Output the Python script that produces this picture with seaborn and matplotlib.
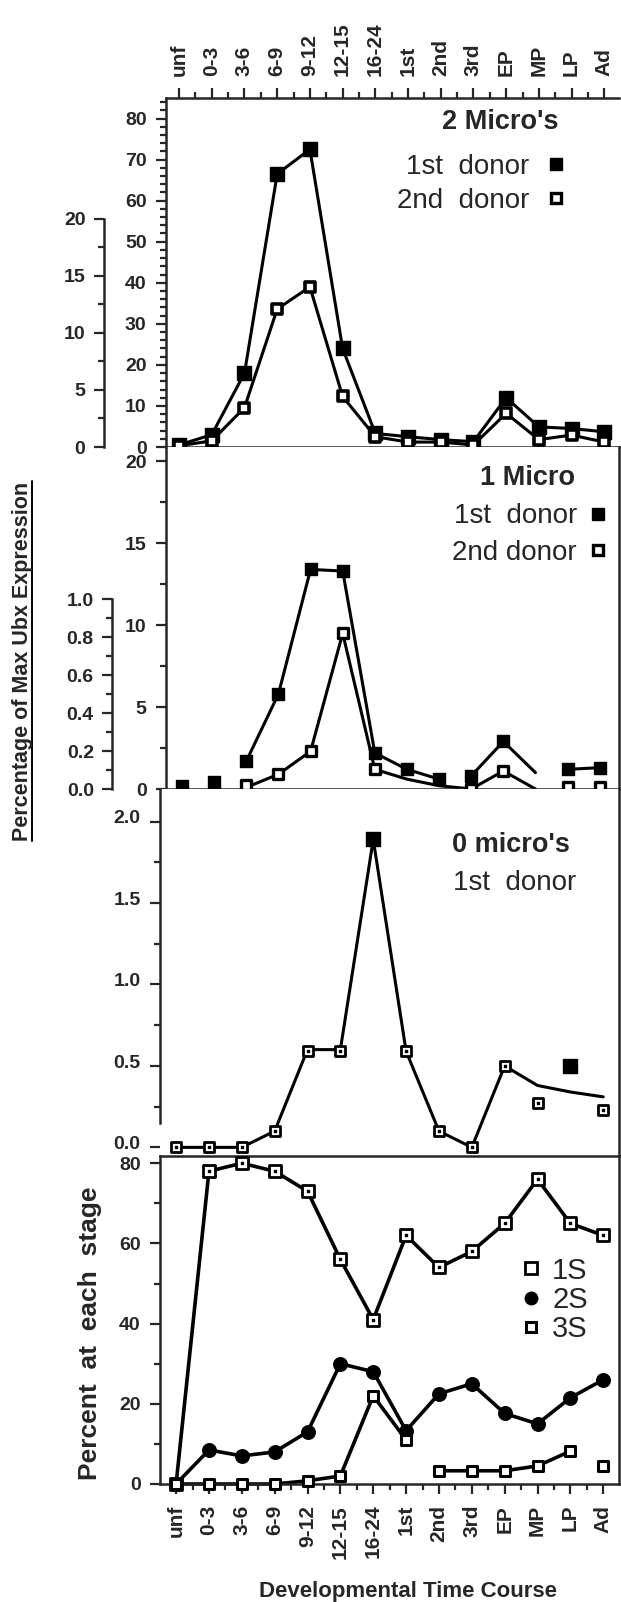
import numpy as np
import pandas as pd
import seaborn as sns
import matplotlib.pyplot as plt
from matplotlib.lines import Line2D
from matplotlib.transforms import ScaledTranslation
from matplotlib.ticker import MultipleLocator, FixedLocator, FormatStrFormatter

stages = ["unf", "0-3", "3-6", "6-9", "9-12", "12-15", "16-24",
          "1st", "2nd", "3rd", "EP", "MP", "LP", "Ad"]
nan = np.nan

# 2 micro's (percentage of max Ubx expression)
two_first = [0.5, 3.0, 18.0, 66.5, 72.5, 24.0, 3.3, 2.5, 1.8, 1.3, 12.0, 4.9, 4.5, 3.7]
two_second = [0.3, 1.5, 9.6, 33.6, 39.0, 12.3, 2.5, 1.2, 1.2, 0.5, 8.2, 1.8, 2.9, 1.2]

# 1 micro
one_first = [0.2, 0.4, 1.7, 5.8, 13.4, 13.3, 2.2, 1.2, 0.6, 0.8, 2.9, nan, 1.2, 1.3]
one_second = [nan, nan, 0.25, 0.9, 2.3, 9.5, 1.2, nan, nan, 0.0, 1.1, nan, 0.1, 0.1]
one_first_lines = [
    (["3-6", "6-9", "9-12", "12-15", "16-24", "1st", "2nd"], [1.7, 5.8, 13.4, 13.3, 2.2, 1.2, 0.6]),
    (["3rd", "EP", "MP"], [0.8, 2.9, 1.0]),
    (["LP", "Ad"], [1.2, 1.3]),
]
one_second_lines = [
    (["3-6", "6-9", "9-12", "12-15", "16-24", "1st", "2nd", "3rd", "EP", "MP"],
     [0.1, 0.9, 2.3, 9.5, 1.2, 0.6, 0.2, 0.0, 1.1, 0.0]),
]

# 0 micro's
zero_first = [0.0, 0.0, 0.0, 0.1, 0.59, 0.59, 1.89, 0.59, 0.1, 0.0, 0.5, 0.27, 0.5, 0.23]
zero_filled = [False, False, False, False, False, False, True,
               False, False, False, False, False, True, False]
zero_line = [0.0, 0.0, 0.0, 0.1, 0.6, 0.6, 1.89, 0.59, 0.1, 0.0, 0.5, 0.38, 0.34, 0.31]

# percent at each stage
s1 = [0, 78, 80, 78, 73, 56, 41, 62, 54, 58, 65, 76, 65, 62]
s2 = [0, 8.5, 7, 8, 13, 30, 28, 13.3, 22.5, 25, 17.6, 15, 21.5, 26]
s3 = [0, 0, 0, 0, 0.8, 2, 22, 11, 3.3, 3.3, 3.3, 4.5, 8.2, 4.5]
s3_lines = [
    (["unf", "0-3", "3-6", "6-9", "9-12", "12-15", "16-24", "1st"], [0, 0, 0, 0, 0.8, 2, 22, 11]),
    (["2nd", "3rd", "EP", "MP", "LP"], [3.3, 3.3, 3.3, 4.5, 8.2]),
]

sns.set_style("ticks")
plt.rcParams['font.family'] = ['Liberation Sans', 'DejaVu Sans']
plt.rcParams['font.weight'] = 'bold'

W, H = 621, 1602


def rect(left, top, right, bottom):
    return [left / W, 1 - bottom / H, (right - left) / W, (bottom - top) / H]


def frame(names, values):
    return pd.DataFrame({"x": [stages.index(n) for n in names], "y": values})


def draw_lines(ax, segs, lw=2.2):
    parts = []
    for i, (names, vals) in enumerate(segs):
        d = frame(names, vals)
        d["seg"] = i
        parts.append(d)
    df = pd.concat(parts)
    sns.lineplot(data=df, x="x", y="y", units="seg", estimator=None, sort=False,
                 color="black", lw=lw, ax=ax, legend=False, clip_on=False)


def draw_marks(ax, values, marker="s", s=80, filled=True, lw=1.0, mask=None):
    d = frame(stages, values).dropna()
    if mask is not None:
        d = d[[mask[i] for i in d["x"]]]
    sns.scatterplot(data=d, x="x", y="y", marker=marker, s=s,
                    color="black" if filled else "white", edgecolor="black",
                    linewidth=lw, ax=ax, legend=False, clip_on=False, zorder=4)


def style_y(ax, major, minor, fmt):
    ax.yaxis.set_major_locator(MultipleLocator(major))
    ax.yaxis.set_minor_locator(MultipleLocator(minor))
    ax.yaxis.set_major_formatter(FormatStrFormatter(fmt))
    ax.tick_params(axis="y", which="major", length=7, width=1.6, labelsize=14, pad=7)
    ax.tick_params(axis="y", which="minor", length=4.5, width=1.6)
    for sp in ax.spines.values():
        sp.set_linewidth(1.8)
    ax.set_xlabel("")
    ax.set_ylabel("")


def side_axis(ax, offset, lim, ticks, minors, fmt):
    sa = fig.add_axes(ax.get_position())
    sa.patch.set_visible(False)
    for s in ["top", "right", "bottom"]:
        sa.spines[s].set_visible(False)
    sa.spines["left"].set_position(("outward", offset))
    sa.spines["left"].set_bounds(ticks[0], ticks[-1])
    sa.spines["left"].set_linewidth(1.8)
    sa.set_ylim(*lim)
    sa.set_xticks([])
    sa.yaxis.set_major_locator(FixedLocator(ticks))
    sa.yaxis.set_minor_locator(FixedLocator(minors))
    sa.yaxis.set_major_formatter(FormatStrFormatter(fmt))
    sa.tick_params(axis="y", which="major", length=7, width=1.6, labelsize=14, pad=6)
    sa.tick_params(axis="y", which="minor", length=4.5, width=1.6)
    return sa


fig = plt.figure(figsize=(W / 100, H / 100), dpi=100)
ax1 = fig.add_axes(rect(166, 98, 619, 447))
ax2 = fig.add_axes(rect(166, 447, 619, 789))
ax3 = fig.add_axes(rect(160, 789, 619, 1156))
ax4 = fig.add_axes(rect(160, 1156, 619, 1484))

for ax in (ax1, ax2, ax3, ax4):
    ax.set_xticks(range(len(stages)))
    ax.xaxis.set_minor_locator(MultipleLocator(0.5))

# panel 1: 2 micro's
draw_lines(ax1, [(stages, two_first)])
draw_lines(ax1, [(stages, two_second)])
draw_marks(ax1, two_first, s=95)
draw_marks(ax1, two_second, s=55, filled=False, lw=2.6)
ax1.set_xlim(-0.4, 13.45)
ax1.set_ylim(0, 85)
style_y(ax1, 10, 2, "%d")
ax1.spines["right"].set_visible(False)
ax1.xaxis.tick_top()
ax1.set_xticklabels(stages, rotation=90)
ax1.tick_params(axis="x", which="major", top=True, bottom=False, length=7, width=1.6,
                labelsize=15, pad=9)
ax1.tick_params(axis="x", which="minor", top=True, bottom=False, length=4.5, width=1.6)

# panel 2: 1 micro
draw_lines(ax2, one_first_lines)
draw_lines(ax2, one_second_lines)
draw_marks(ax2, one_first, s=85)
draw_marks(ax2, one_second, s=50, filled=False, lw=2.4)
ax2.set_xlim(-0.5, 13.6)
ax2.set_ylim(0, 20.87)
style_y(ax2, 5, 2.5, "%d")
ax2.spines["top"].set_visible(False)
ax2.tick_params(axis="x", which="both", bottom=False, top=False, labelbottom=False)

# panel 3: 0 micro's
draw_lines(ax3, [(stages, zero_line)])
draw_marks(ax3, zero_first, s=60, filled=False, lw=2.0,
           mask=[not f for f in zero_filled])
draw_marks(ax3, zero_first, s=4, mask=[not f for f in zero_filled])
draw_marks(ax3, zero_first, s=95, mask=zero_filled)
ax3.set_xlim(-0.49, 13.48)
ax3.set_ylim(-0.053, 2.2)
style_y(ax3, 0.5, 0.25, "%.1f")
ax3.spines["top"].set_visible(False)
ax3.spines["bottom"].set_visible(False)
ax3.spines["left"].set_bounds(0.15, 2.2)
ax3.tick_params(axis="x", which="both", bottom=False, top=False, labelbottom=False)

# panel 4: percent at each stage
draw_lines(ax4, [(stages, s1)], lw=2.6)
draw_lines(ax4, [(stages, s2)], lw=2.6)
draw_lines(ax4, s3_lines, lw=2.6)
draw_marks(ax4, s1, s=75, filled=False, lw=2.0)
draw_marks(ax4, s1, s=4)
draw_marks(ax4, s2, marker="o", s=95)
draw_marks(ax4, s3, s=45, filled=False, lw=2.2)
ax4.set_xlim(-0.49, 13.48)
ax4.set_ylim(0, 81.8)
style_y(ax4, 20, 10, "%d")
ax4.set_xticklabels(stages, rotation=90)
ax4.tick_params(axis="x", which="major", length=7, width=1.6, labelsize=15, pad=8)
ax4.tick_params(axis="x", which="minor", length=4.5, width=1.6)

# panel 3 labels sit a little above their ticks, as in the original
for lab in ax3.get_yticklabels():
    lab.set_transform(lab.get_transform() + ScaledTranslation(0, 3.5 / 72, fig.dpi_scale_trans))

# offset scales on the left
side_axis(ax1, 45, (0.0, 30.6), [0, 5, 10, 15, 20], [2.5, 7.5, 12.5, 17.5], "%d")
side_axis(ax2, 39, (0.0, 1.8), [0.0, 0.2, 0.4, 0.6, 0.8, 1.0],
          [0.1, 0.3, 0.5, 0.7, 0.9], "%.1f")

# legends
h_fill = Line2D([], [], ls="none", marker="s", ms=9, mfc="black", mec="black")
h_open = Line2D([], [], ls="none", marker="s", ms=7.5, mfc="white", mec="black", mew=2.4)
common = dict(frameon=False, borderaxespad=0, borderpad=0, markerfirst=False,
              handlelength=0.8, prop={"size": 20, "weight": "normal"})

ax1.text(0.737, 0.931, "2 Micro's", transform=ax1.transAxes, ha="center", va="center",
         fontsize=19.5, fontweight="bold")
ax1.legend([h_fill, h_open], ["1st  donor", "2nd  donor"], loc="center right",
           bbox_to_anchor=(0.885, 0.754), handletextpad=0.55, labelspacing=0.27, **common)

ax2.text(0.797, 0.909, "1 Micro", transform=ax2.transAxes, ha="center", va="center",
         fontsize=19.5, fontweight="bold")
ax2.legend([h_fill, h_open], ["1st  donor", "2nd donor"], loc="center right",
           bbox_to_anchor=(0.978, 0.744), handletextpad=0.36, labelspacing=0.38, **common)

ax3.text(0.765, 0.847, "0 micro's", transform=ax3.transAxes, ha="center", va="center",
         fontsize=19.5, fontweight="bold")
ax3.text(0.772, 0.744, "1st  donor", transform=ax3.transAxes, ha="center", va="center",
         fontsize=20, fontweight="normal")

h1 = Line2D([], [], ls="none", marker="s", ms=8, mfc="white", mec="black", mew=2.0)
h2 = Line2D([], [], ls="none", marker="o", ms=9, mfc="black", mec="black")
h3 = Line2D([], [], ls="none", marker="s", ms=6.5, mfc="white", mec="black", mew=2.2)
ax4.legend([h1, h2, h3], ["1S", "2S", "3S"], loc="center left",
           bbox_to_anchor=(0.783, 0.561), handlelength=0.8, handletextpad=0.32,
           labelspacing=0.05, frameon=False, borderaxespad=0, borderpad=0,
           prop={"size": 21, "weight": "normal"})

# axis titles
ylab = fig.text(23 / W, 1 - 661 / H, "Percentage of Max Ubx Expression", rotation=90,
                ha="center", va="center", fontsize=15.5, fontweight="bold")
fig.text(90 / W, 1 - 1333 / H, "Percent  at  each  stage", rotation=90,
         ha="center", va="center", fontsize=19, fontweight="bold")
fig.text(408 / W, 1 - 1591 / H, "Developmental Time Course",
         ha="center", va="center", fontsize=16, fontweight="bold")

fig.canvas.draw()
bb = ylab.get_window_extent()
ux = (bb.x1 - 2) / W
fig.add_artist(Line2D([ux, ux], [bb.y0 / H, bb.y1 / H], color="black", lw=1.4))

fig.savefig("out.png", dpi=100)
